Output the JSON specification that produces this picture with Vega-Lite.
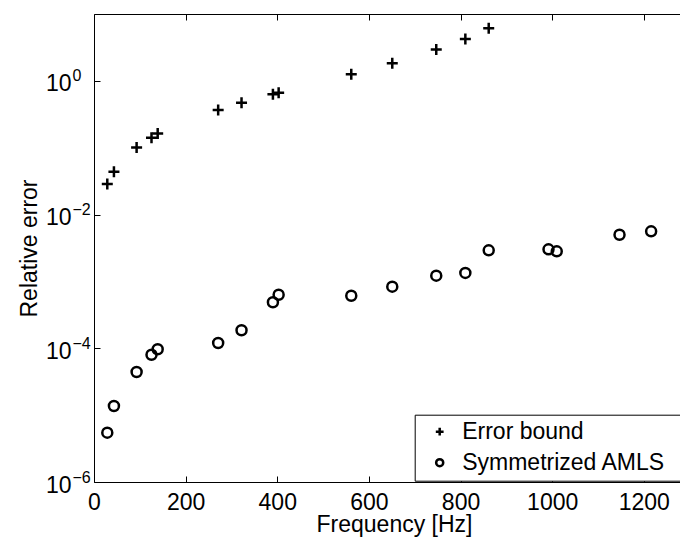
{
  "$schema": "https://vega.github.io/schema/vega-lite/v6.json",
  "width": 586,
  "height": 468,
  "autosize": {"type": "none"},
  "padding": {"left": 94, "top": 14, "right": 0, "bottom": 56},
  "background": "white",
  "config": {
    "view": {"stroke": null},
    "font": "Liberation Sans",
    "axis": {"grid": false, "domainColor": "black", "domainWidth": 1, "tickColor": "black", "tickWidth": 1, "labelColor": "black", "titleColor": "black", "labelFont": "Liberation Sans", "titleFont": "Liberation Sans", "titleFontWeight": "normal"}
  },
  "data": {
    "values": [
      {"series": "Error bound", "freq": 29, "err": 0.0286},
      {"series": "Error bound", "freq": 43.5, "err": 0.0436},
      {"series": "Error bound", "freq": 93, "err": 0.101},
      {"series": "Error bound", "freq": 125.5, "err": 0.141},
      {"series": "Error bound", "freq": 139, "err": 0.163},
      {"series": "Error bound", "freq": 271, "err": 0.365},
      {"series": "Error bound", "freq": 322, "err": 0.469},
      {"series": "Error bound", "freq": 390.5, "err": 0.633},
      {"series": "Error bound", "freq": 403, "err": 0.662},
      {"series": "Error bound", "freq": 561.5, "err": 1.26},
      {"series": "Error bound", "freq": 651, "err": 1.84},
      {"series": "Error bound", "freq": 747, "err": 2.95},
      {"series": "Error bound", "freq": 810.5, "err": 4.24},
      {"series": "Error bound", "freq": 861.5, "err": 6.13},
      {"series": "Symmetrized AMLS", "freq": 29, "err": 5.47e-6},
      {"series": "Symmetrized AMLS", "freq": 43.5, "err": 1.37e-5},
      {"series": "Symmetrized AMLS", "freq": 93, "err": 4.42e-5},
      {"series": "Symmetrized AMLS", "freq": 125.5, "err": 8.0e-5},
      {"series": "Symmetrized AMLS", "freq": 139, "err": 9.66e-5},
      {"series": "Symmetrized AMLS", "freq": 271, "err": 1.2e-4},
      {"series": "Symmetrized AMLS", "freq": 322, "err": 1.86e-4},
      {"series": "Symmetrized AMLS", "freq": 390.5, "err": 4.88e-4},
      {"series": "Symmetrized AMLS", "freq": 403, "err": 6.33e-4},
      {"series": "Symmetrized AMLS", "freq": 561.5, "err": 6.11e-4},
      {"series": "Symmetrized AMLS", "freq": 651, "err": 8.34e-4},
      {"series": "Symmetrized AMLS", "freq": 747, "err": 1.22e-3},
      {"series": "Symmetrized AMLS", "freq": 810.5, "err": 1.34e-3},
      {"series": "Symmetrized AMLS", "freq": 861.5, "err": 2.92e-3},
      {"series": "Symmetrized AMLS", "freq": 992, "err": 3.02e-3},
      {"series": "Symmetrized AMLS", "freq": 1010, "err": 2.82e-3},
      {"series": "Symmetrized AMLS", "freq": 1147, "err": 4.99e-3},
      {"series": "Symmetrized AMLS", "freq": 1216, "err": 5.61e-3}
    ]
  },
  "layer": [
    {
      "mark": {"type": "point", "filled": false, "strokeWidth": 2.5, "color": "black", "size": 100, "opacity": 1},
      "encoding": {
        "x": {
          "field": "freq", "type": "quantitative",
          "scale": {"domain": [0, 1279], "nice": false, "zero": false},
          "axis": {"orient": "bottom", "values": [0, 200, 400, 600, 800, 1000, 1200], "format": "d", "tickSize": -6, "labelPadding": 33.5, "labelBaseline": "alphabetic", "labelFontSize": 23, "labelFlush": false, "labelOverlap": false, "title": "Frequency [Hz]", "titleFontSize": 23, "titleX": 300, "titleY": 49, "titleBaseline": "alphabetic", "titleAlign": "center"}
        },
        "y": {
          "field": "err", "type": "quantitative",
          "scale": {"type": "log", "domain": [1e-6, 10], "nice": false},
          "axis": {"orient": "left", "values": [1e-6, 1e-4, 1e-2, 1], "labelExpr": "'10'", "tickSize": -6, "labelPadding": 29, "labelBaseline": "alphabetic", "labelOffset": 10, "labelFontSize": 23, "labelFlush": false, "labelOverlap": false, "title": "Relative error", "titleFontSize": 23, "titleX": -58, "titleY": 234, "titleAngle": 270, "titleBaseline": "alphabetic", "titleAlign": "center"}
        },
        "shape": {
          "field": "series", "type": "nominal",
          "scale": {"domain": ["Error bound", "Symmetrized AMLS"], "range": ["M-1.1,0H1.1M0,-1.1V1.1", "circle"]},
          "legend": {"title": null, "orient": "none", "legendX": 320.7, "legendY": 400.7, "direction": "vertical", "padding": 5.5, "strokeColor": "black", "fillColor": "white", "cornerRadius": 0, "symbolOffset": 8, "labelOffset": 11, "rowPadding": 7, "labelFontSize": 23, "labelFont": "Liberation Sans", "labelColor": "black", "labelLimit": 1000, "symbolSize": 50, "symbolStrokeWidth": 2.5, "symbolStrokeColor": "black", "symbolFillColor": "transparent", "labelExpr": "datum.label == 'Symmetrized AMLS' ? datum.label + '\u00a0\u00a0\u200b' : datum.label"}
        }
      }
    },
    {
      "mark": {"type": "point", "opacity": 0},
      "encoding": {
        "x": {
          "field": "freq", "type": "quantitative",
          "axis": {"orient": "top", "values": [0, 200, 400, 600, 800, 1000, 1200], "tickSize": -6, "labels": false, "title": null}
        },
        "y": {
          "field": "err", "type": "quantitative",
          "axis": {"orient": "left", "values": [1e-6, 1e-4, 1e-2, 1], "labelExpr": "datum.value > 0.5 ? '0' : datum.value > 0.005 ? '\u22122' : datum.value > 0.00005 ? '\u22124' : '\u22126'", "ticks": false, "domain": false, "labelPadding": 22, "labelAlign": "left", "labelBaseline": "alphabetic", "labelOffset": 0, "labelFontSize": 16, "labelFlush": false, "labelOverlap": false, "title": null}
        }
      }
    }
  ],
  "resolve": {"axis": {"x": "independent", "y": "independent"}}
}
